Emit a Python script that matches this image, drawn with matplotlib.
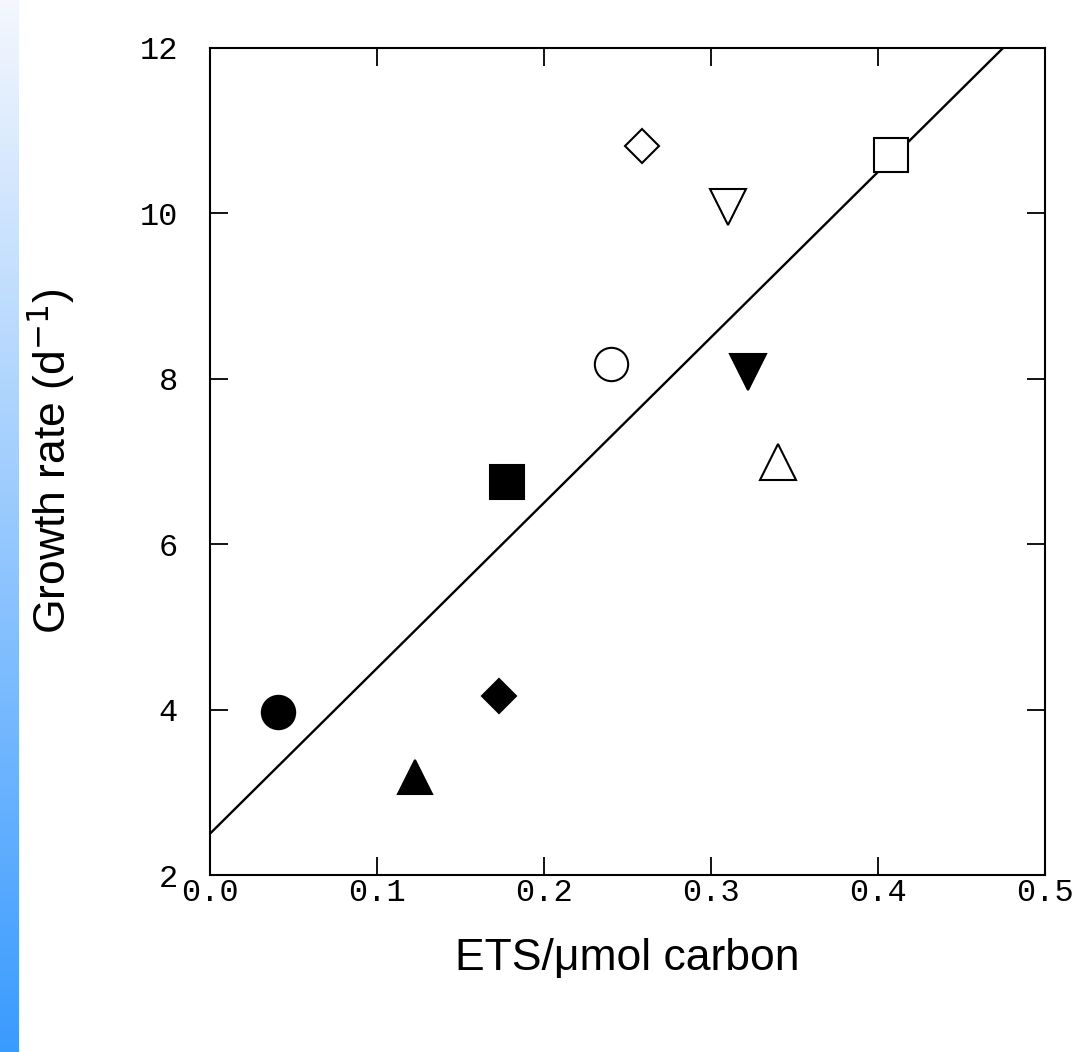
import numpy as np
import matplotlib
matplotlib.use("Agg")
from matplotlib import pyplot as plt
from matplotlib.colors import LinearSegmentedColormap

# data
ets = [0.041, 0.123, 0.173, 0.178, 0.240, 0.259, 0.310, 0.322, 0.340, 0.408]
growth = [3.97, 3.18, 4.16, 6.75, 8.18, 10.81, 10.08, 8.08, 7.00, 10.70]
markers = ['o', '^', 'D', 's', 'o', 'D', 'v', 'v', '^', 's']
filled = [True, True, True, True, False, False, False, True, False, False]
sizes = [24, 25, 17, 24, 24, 17, 26, 26, 26, 25]

fit_intercept = 2.5
fit_slope = 20.0

xticks = [0.0, 0.1, 0.2, 0.3, 0.4, 0.5]
yticks = [2, 4, 6, 8, 10, 12]

fig = plt.figure(figsize=(10.85, 10.52), dpi=100)

# blue gradient strip on the left edge
strip = fig.add_axes([0, 0, 0.017, 1])
cmap = LinearSegmentedColormap.from_list('strip', ['#f4f7fd', '#3a9bff'])
strip.imshow(np.linspace(0, 1, 256).reshape(-1, 1), aspect='auto', cmap=cmap)
strip.axis('off')

ax = fig.add_axes([0.1935, 0.1682, 0.7695, 0.7862])

xx = np.array([0.0, 0.5])
ax.plot(xx, fit_intercept + fit_slope * xx, color='black', linewidth=1.7, zorder=2)

for x, y, m, f, s in zip(ets, growth, markers, filled, sizes):
    ax.plot(x, y, marker=m, markersize=s, linestyle='none',
            markerfacecolor='black' if f else 'white',
            markeredgecolor='black', markeredgewidth=1.5, zorder=3)

ax.set_xlim(0, 0.5)
ax.set_ylim(2, 12)
ax.set_xticks(xticks)
ax.set_yticks(yticks)
ax.set_xticklabels(['%.1f' % t for t in xticks])
ax.set_yticklabels([str(t) for t in yticks])
ax.tick_params(direction='in', length=13, width=1.3, top=True, right=True,
               labelsize=23)
ax.tick_params(axis='x', pad=2)
ax.tick_params(axis='y', pad=23)
for lab in ax.get_xticklabels() + ax.get_yticklabels():
    lab.set_family(['Liberation Mono', 'DejaVu Sans Mono'])
for sp in ax.spines.values():
    sp.set_linewidth(1.5)

lab_font = ['Liberation Sans Narrow', 'Liberation Sans', 'DejaVu Sans']
ax.set_xlabel('ETS/\u03bcmol carbon', fontsize=32, family=lab_font, labelpad=22)
ax.set_ylabel('Growth rate (d$^{-1}$)', fontsize=32, family=lab_font, labelpad=45)

fig.savefig('out.png', dpi=100)
